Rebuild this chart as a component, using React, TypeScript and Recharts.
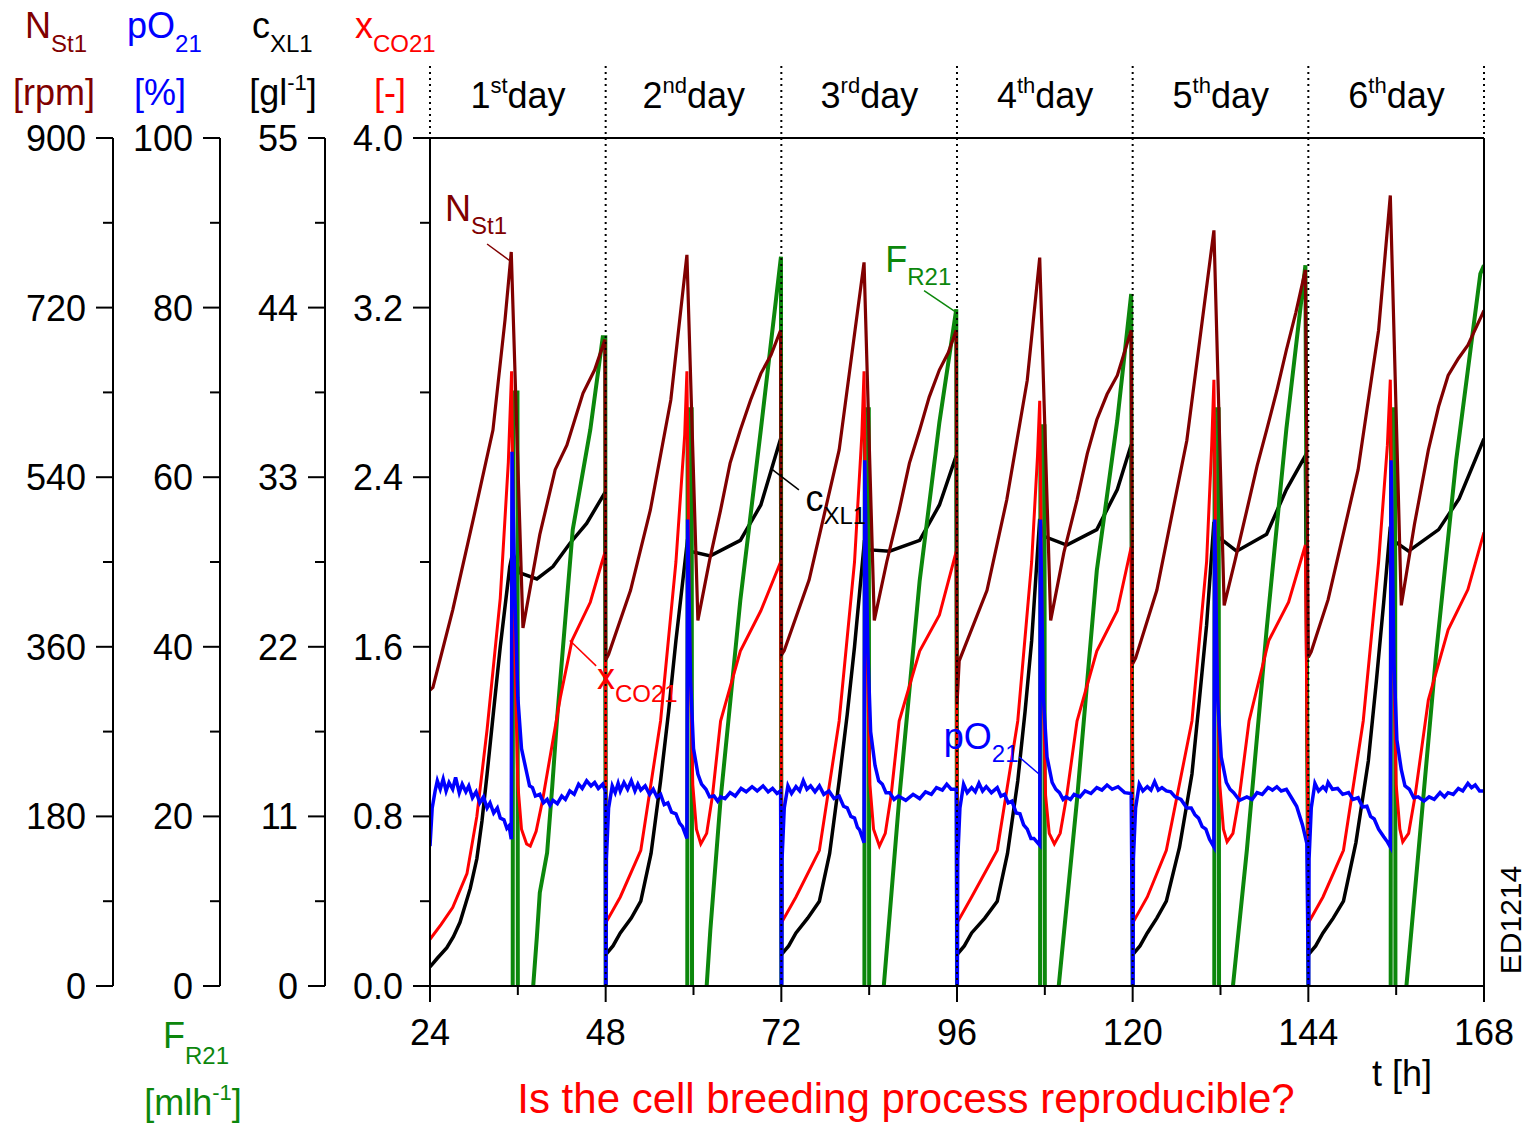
import { ComposedChart, Line, XAxis, YAxis, ReferenceLine, ReferenceDot } from 'recharts';

const FONT = '"Liberation Sans", Arial, Helvetica, sans-serif';
const BROWN = '#800000';
const RED = '#ff0000';
const GREEN = '#0c870c';
const BLUE = '#0000ff';
const BLACK = '#000000';

// y-axis ids; the left axes are stacked outward in id order
const AX_XCO2 = 'a_xco2';
const AX_CXL = 'b_cxl';
const AX_PO2 = 'c_po2';
const AX_N = 'd_n';

type Pt = [number, number | null];

/** stirrer speed N_St1 [rpm] */
const N_ST1: Pt[] = [
  [24, 314], [24.4, 317], [27.1, 399], [29.9, 495], [32.6, 590], [34.25, 707], [35.1, 779], [36.7, 380], [39.0, 479], [41.1, 548], [42.7, 574], [44.9, 629], [46.5, 654], [47.9, 686],
  [48.0, 346], [48.4, 352], [51.4, 420], [54.1, 505], [56.9, 622], [59.1, 776], [60.6, 388], [62.2, 452], [63.7, 505], [65.0, 555], [66.4, 590], [67.8, 622], [69.2, 650], [70.6, 670], [71.9, 696],
  [72.0, 351], [72.4, 356], [75.8, 431], [79.9, 569], [83.3, 768], [84.7, 388], [86.4, 450], [88.1, 505], [89.5, 555], [90.9, 590], [92.2, 625], [93.6, 654], [94.8, 672], [95.9, 696],
  [96.0, 299], [96.3, 345], [100.1, 420], [102.8, 516], [105.6, 643], [107.3, 773], [108.8, 388], [110.6, 460], [112.4, 516], [113.8, 565], [115.1, 601], [116.5, 628], [117.9, 648], [119.8, 696],
  [120.0, 342], [120.4, 348], [123.3, 420], [127.4, 579], [131.1, 802], [132.5, 404], [134.0, 452], [135.6, 505], [137.0, 552], [138.3, 590], [139.7, 632], [141.0, 675], [142.3, 715], [143.6, 760],
  [144.0, 349], [144.4, 355], [146.7, 410], [150.8, 548], [153.6, 696], [155.2, 839], [156.7, 404], [158.5, 490], [160.4, 569], [161.8, 615], [163.1, 648], [164.5, 666], [165.8, 680], [168.0, 717],
];

/** off-gas CO2 fraction x_CO21 [-] */
const X_CO21: Pt[] = [
  [24, 0.22], [25.5, 0.29], [27.1, 0.37], [29.05, 0.53], [30.4, 0.8], [31.8, 1.21], [33.6, 1.83], [34.7, 2.47], [35.15, 2.9], [35.5, 1.7], [36.0, 0.95], [36.5, 0.74], [37.2, 0.67], [37.7, 0.66], [38.5, 0.73], [39.4, 0.88], [41.8, 1.36], [43.4, 1.63], [45.9, 1.81], [47.5, 2.0], [47.95, 2.05],
  [48.05, 0.3], [50.0, 0.42], [52.8, 0.64], [55.5, 1.25], [57.6, 2.0], [58.8, 2.6], [59.1, 2.9], [59.45, 1.7], [59.9, 0.95], [60.4, 0.74], [61.0, 0.67], [61.8, 0.72], [62.6, 0.9], [63.7, 1.25], [66.4, 1.58], [69.2, 1.77], [71.9, 2.0],
  [72.05, 0.3], [74.0, 0.42], [77.2, 0.64], [79.9, 1.25], [82.0, 2.0], [83.0, 2.6], [83.3, 2.9], [83.65, 1.7], [84.1, 0.95], [84.6, 0.74], [85.4, 0.66], [86.2, 0.72], [87.0, 0.9], [88.1, 1.25], [90.9, 1.58], [93.6, 1.75], [95.9, 2.05],
  [96.05, 0.3], [98.0, 0.42], [101.5, 0.64], [104.3, 1.25], [106.2, 2.0], [107.0, 2.5], [107.3, 2.76], [107.65, 1.6], [108.1, 0.9], [108.6, 0.72], [109.3, 0.67], [110.1, 0.72], [111.0, 0.9], [112.4, 1.25], [115.1, 1.58], [117.9, 1.77], [119.8, 2.07],
  [120.05, 0.3], [122.0, 0.42], [124.6, 0.64], [128.1, 1.25], [130.1, 2.0], [130.8, 2.55], [131.1, 2.86], [131.45, 1.7], [131.9, 0.95], [132.4, 0.74], [132.9, 0.68], [133.7, 0.72], [134.6, 0.9], [135.9, 1.25], [138.6, 1.63], [141.3, 1.81], [143.6, 2.08],
  [144.05, 0.3], [146.0, 0.42], [148.8, 0.64], [151.5, 1.25], [153.6, 2.0], [154.8, 2.55], [155.2, 2.86], [155.55, 1.7], [156.0, 0.95], [156.5, 0.74], [156.9, 0.68], [157.7, 0.72], [158.6, 0.9], [160.4, 1.35], [163.1, 1.68], [165.8, 1.87], [168.0, 2.14],
];

/** cell concentration c_XL1 [g/l] */
const C_XL1: Pt[] = [
  [24, 1.24], [25, 1.8], [26.3, 2.48], [27.2, 3.2], [28.1, 4.13], [29.5, 6.33], [30.4, 8.25], [31.1, 10.7], [31.8, 13.75], [32.7, 17.9], [33.6, 22.0], [34.9, 27.2], [35.3, 28.1], [36.3, 26.8], [38.6, 26.4], [40.8, 27.2], [43.1, 28.7], [45.4, 30.0], [47.9, 32.0],
  [48.05, 2.06], [49.0, 2.6], [50.0, 3.44], [51.5, 4.4], [52.8, 5.5], [54.2, 8.6], [55.5, 13.3], [56.6, 17.8], [57.6, 22.4], [59.1, 28.6], [59.5, 28.2], [62.3, 27.9], [66.4, 28.9], [69.2, 31.2], [71.9, 35.5],
  [72.05, 2.06], [73.0, 2.6], [74.0, 3.44], [75.6, 4.4], [77.2, 5.5], [78.6, 8.6], [79.9, 13.3], [81.0, 17.6], [82.0, 22.0], [83.3, 28.6], [83.7, 28.3], [86.8, 28.2], [90.9, 28.9], [93.6, 31.2], [95.9, 34.4],
  [96.05, 2.06], [97.0, 2.6], [98.0, 3.44], [99.8, 4.4], [101.5, 5.5], [102.9, 8.6], [104.3, 13.3], [105.3, 17.8], [106.2, 22.4], [107.3, 30.3], [107.7, 29.2], [111.0, 28.6], [115.1, 29.6], [117.9, 32.2], [119.8, 35.1],
  [120.05, 2.06], [121.0, 2.6], [122.0, 3.44], [123.3, 4.4], [124.6, 5.5], [126.4, 9.0], [128.1, 13.75], [129.1, 18.5], [130.1, 23.4], [131.1, 30.1], [131.5, 29.2], [134.2, 28.2], [138.3, 29.3], [141.0, 32.2], [143.6, 34.4],
  [144.05, 2.06], [145.0, 2.6], [146.0, 3.44], [147.4, 4.4], [148.8, 5.5], [150.5, 9.3], [152.2, 14.6], [153.3, 19.8], [154.3, 24.9], [155.2, 29.8], [155.6, 28.9], [157.7, 28.2], [161.8, 29.6], [164.6, 31.6], [168.0, 35.5],
];

/** dissolved oxygen pO_21 [%] */
const PO_21: Pt[] = [
  [24, 16.5], [24.3, 21], [24.7, 23], [25.0, 24.2], [25.4, 23.2], [25.8, 24.4], [26.2, 23], [26.6, 24], [27.1, 23.2], [27.5, 24.6], [28.0, 22.8], [28.4, 23.8], [28.9, 22.9], [29.3, 23.6], [29.8, 22.2], [30.3, 22.9], [30.8, 21.6], [31.3, 22.3], [31.8, 21], [32.2, 21.6], [32.7, 20.4], [33.2, 21], [33.6, 19.8], [34.1, 19.6], [34.5, 18.6], [34.8, 18.9], [35.1, 17.3],
  [35.2, 63], [35.6, 46], [36.0, 34], [36.5, 28], [37.25, 25], [37.6, 23.6], [38.0, 23.4], [38.4, 22.4], [39.0, 22.6], [39.5, 21.6], [40.0, 22], [40.4, 21.3], [40.8, 21.9], [41.4, 21.5], [42.0, 22.4], [42.5, 22], [43.1, 23], [43.7, 22.6], [44.3, 23.8], [44.8, 23.3], [45.4, 24.2], [46.0, 23.6], [46.5, 24], [47.0, 23.3], [47.6, 23.8], [47.95, 23], [48.0, 0],
  [48.05, 0], [48.1, 15], [48.4, 21], [48.9, 23.6], [49.3, 22.8], [49.7, 23.9], [50.0, 23], [50.5, 24], [51.0, 23.2], [51.5, 24.2], [52.0, 23], [52.4, 23.8], [52.8, 23.1], [53.4, 23.6], [54.0, 22.6], [54.5, 23.2], [55.0, 22.3], [55.5, 22.6], [56.0, 21.4], [56.5, 21.6], [57.0, 20.5], [57.6, 20.3], [58.1, 19.2], [58.5, 18.8], [59.1, 17.4],
  [59.2, 55], [59.6, 36], [60.0, 28], [60.6, 25], [61.1, 23.8], [61.7, 23.2], [62.2, 22.3], [62.8, 22.4], [63.3, 21.8], [63.7, 22.3], [64.3, 22.1], [65.0, 22.8], [65.7, 22.4], [66.5, 23.3], [67.2, 22.9], [68.0, 23.5], [68.7, 23], [69.5, 23.6], [70.2, 22.9], [70.8, 23.3], [71.4, 22.7], [71.9, 23], [72.0, 0],
  [72.05, 0], [72.1, 15], [72.4, 21], [72.9, 23.6], [73.4, 22.7], [74.0, 23.5], [74.5, 23], [75.0, 24.2], [75.5, 23.2], [76.0, 23.6], [76.6, 22.9], [77.2, 23.6], [77.8, 22.6], [78.5, 23], [79.2, 22.1], [79.9, 22.4], [80.5, 21.2], [81.0, 21], [81.5, 20], [82.0, 19.8], [82.4, 18.7], [82.7, 18.4], [83.3, 16.9],
  [83.4, 62], [83.8, 40], [84.2, 30], [84.8, 26], [85.3, 24.2], [85.8, 23.8], [86.3, 22.8], [86.8, 22.8], [87.4, 22], [88.0, 22.4], [89.0, 21.9], [90.0, 22.6], [90.9, 22.1], [91.7, 22.9], [92.5, 22.6], [93.2, 23.4], [94.0, 23.1], [94.6, 23.8], [95.2, 23.2], [95.9, 23.2], [96.0, 0],
  [96.05, 0], [96.1, 15], [96.4, 21], [96.9, 23.8], [97.4, 22.8], [98.0, 23.4], [98.5, 22.9], [99.0, 23.9], [99.5, 23], [100.0, 23.5], [100.7, 22.8], [101.5, 23.4], [102.0, 22.4], [102.5, 22.6], [103.0, 21.6], [103.5, 21.8], [104.1, 20.4], [104.6, 20.3], [105.1, 19], [105.6, 18.5], [106.1, 17.4], [106.5, 17.4], [107.3, 16.6],
  [107.4, 55], [107.8, 34], [108.3, 27], [109.0, 24], [109.5, 23.2], [110.0, 22.8], [110.5, 22], [110.9, 22.3], [111.5, 22], [112.0, 22.6], [112.8, 22.3], [113.5, 23], [114.3, 22.7], [115.1, 23.4], [115.8, 23.1], [116.5, 23.7], [117.2, 23.2], [118.0, 23.5], [118.9, 22.8], [119.8, 22.7], [120.0, 0],
  [120.05, 0], [120.1, 15], [120.4, 21], [120.9, 23.8], [121.4, 23], [122.0, 23.5], [122.5, 23.1], [123.0, 24.1], [123.5, 23.1], [124.0, 23.4], [124.6, 23], [125.2, 22.9], [125.8, 22.3], [126.6, 22], [127.4, 21], [128.0, 21], [128.5, 20.2], [129.0, 19.8], [129.5, 18.8], [130.0, 18.5], [130.5, 17.3], [131.1, 16.4],
  [131.2, 55], [131.6, 34], [132.1, 27], [132.8, 24], [133.3, 23.2], [133.8, 22.8], [134.6, 21.9], [135.6, 22.3], [136.3, 22], [137.0, 22.8], [137.7, 22.6], [138.5, 23.4], [139.1, 23.1], [139.7, 23.5], [140.3, 23], [141.0, 23.2], [141.7, 22.2], [142.4, 21.2], [143.2, 19], [143.8, 16.8], [144.0, 0],
  [144.05, 0], [144.1, 15], [144.4, 21], [144.9, 23.9], [145.4, 23], [146.0, 23.5], [146.4, 23.1], [146.7, 24], [147.3, 23.2], [148.0, 23.3], [148.7, 22.6], [149.5, 22.8], [150.1, 22], [150.8, 22.2], [151.4, 21.1], [152.0, 21.2], [152.5, 20], [153.0, 19.7], [153.6, 18.5], [154.3, 17.6], [154.8, 17], [155.2, 16.4],
  [155.3, 62], [155.7, 38], [156.1, 29], [156.7, 25.5], [157.2, 23.6], [157.8, 23.2], [158.4, 22.2], [159.0, 22.3], [159.8, 21.8], [160.5, 22.3], [161.2, 22], [162.0, 22.8], [162.6, 22.3], [163.1, 22.8], [163.8, 22.6], [164.5, 23.3], [165.1, 23], [165.8, 23.9], [166.3, 23.4], [166.8, 23.7], [167.4, 23], [168.0, 23],
];

/** feed rate F_R21 [ml/h], null = pump off */
const F_R21: Pt[] = [
  [35.3, 0], [35.35, 70], [35.95, 70], [36.0, 0], [37, null], [38.1, 0], [38.6, 5.8], [39.0, 11], [40.0, 15.7], [40.7, 23.5], [41.35, 31.4], [43.5, 53.8], [45.9, 65.6], [47.6, 76.5], [47.95, 76.5], [48.0, 0], [50, null],
  [59.15, 0], [59.2, 68], [59.75, 68], [59.8, 0], [61, null], [61.8, 0], [62.3, 6.6], [63.7, 22], [66.4, 45.5], [69.2, 65.6], [71.95, 86], [72.0, 0], [74, null],
  [83.35, 0], [83.4, 68], [83.95, 68], [84.0, 0], [85, null], [86.0, 0], [88.1, 22], [90.9, 47.8], [93.6, 66.5], [95.9, 79.8], [96.0, 0], [98, null],
  [107.35, 0], [107.4, 66], [107.95, 66], [108.0, 0], [109, null], [109.9, 0], [112.4, 22], [115.1, 49], [117.9, 66.7], [119.8, 81.6], [120.0, 0], [122, null],
  [131.15, 0], [131.2, 68], [131.75, 68], [131.8, 0], [133, null], [133.7, 0], [135.6, 16], [138.3, 42], [141.0, 65.7], [143.6, 85], [144.0, 0], [146, null],
  [155.25, 0], [155.3, 68], [155.85, 68], [155.9, 0], [156.5, null], [157.4, 0], [158.7, 12.5], [161.5, 39.5], [164.2, 62], [167.5, 84], [168, 85],
];

const T_TICKS = [24, 36, 48, 60, 72, 84, 96, 108, 120, 132, 144, 156, 168];
const DAY_BOUNDS = [24, 48, 72, 96, 120, 144, 168];
const DAY_LABELS = [['1', 'st'], ['2', 'nd'], ['3', 'rd'], ['4', 'th'], ['5', 'th'], ['6', 'th']];
const N_TICKS = [0, 90, 180, 270, 360, 450, 540, 630, 720, 810, 900];
const PO2_TICKS = [0, 10, 20, 30, 40, 50, 60, 70, 80, 90, 100];
const CX_TICKS = [0, 5.5, 11, 16.5, 22, 27.5, 33, 38.5, 44, 49.5, 55];
const XCO2_TICKS = [0, 0.4, 0.8, 1.2, 1.6, 2.0, 2.4, 2.8, 3.2, 3.6, 4.0];

const toPts = (a: Pt[]) => a.map(([t, y]) => ({ t, y }));

const isMajor = (v: number, step: number) => Math.abs(v / step - Math.round(v / step)) < 1e-6;

function makeYTick(step: number, digits: number) {
  return (props: any) => {
    const { x, y, payload } = props;
    const v = payload.value as number;
    const major = isMajor(v, step);
    const len = major ? 17 : 10;
    return (
      <g>
        <line x1={x - len} y1={y} x2={x} y2={y} stroke={BLACK} strokeWidth={2} />
        {major && (
          <text x={x - len - 10} y={y + 13} textAnchor="end" fontSize={36} fontFamily={FONT} fill={BLACK}>
            {v.toFixed(digits)}
          </text>
        )}
      </g>
    );
  };
}

const XTick = (props: any) => {
  const { x, y, payload } = props;
  const v = payload.value as number;
  const major = isMajor(v, 24);
  return (
    <g>
      <line x1={x} y1={y} x2={x} y2={y + (major ? 16 : 9)} stroke={BLACK} strokeWidth={2} />
      {major && (
        <text x={x} y={y + 59} textAnchor="middle" fontSize={36} fontFamily={FONT} fill={BLACK}>
          {v}
        </text>
      )}
    </g>
  );
};

// symbol with subscript, used for curve annotations
const SubLabel = ({ cx, cy, main, sub, color }: any) => (
  <text x={cx} y={cy} fill={color} fontSize={36} fontFamily={FONT}>
    {main}
    <tspan dy={13} fontSize={24}>{sub}</tspan>
  </text>
);

const ANNOTATIONS = [
  { t: 26.05, v: 3.61, main: 'N', sub: 'St1', color: BROWN, lead: [[31.8, 3.5], [34.95, 3.42]] },
  { t: 86.2, v: 3.37, main: 'F', sub: 'R21', color: GREEN, lead: [[91.5, 3.28], [95.8, 3.18]] },
  { t: 75.3, v: 2.24, main: 'c', sub: 'XL1', color: BLACK, lead: [[74.4, 2.34], [70.6, 2.44]] },
  { t: 46.8, v: 1.4, main: 'x', sub: 'CO21', color: RED, lead: [[46.7, 1.51], [43.1, 1.63]] },
  { t: 94.2, v: 1.12, main: 'pO', sub: '21', color: BLUE, lead: [[104.5, 1.08], [107.2, 1.0]] },
];

const Sup = ({ children }: any) => <tspan dy={-15} fontSize={22}>{children}</tspan>;

export default function App() {
  const axisLine = { stroke: BLACK, strokeWidth: 2 };
  return (
    <div style={{ position: 'absolute', left: 0, top: 0, width: 1528, height: 1126, background: '#fff' }}>
      <ComposedChart width={1528} height={1126} margin={{ top: 138, right: 44, bottom: 80, left: 0 }}>
        <XAxis dataKey="t" type="number" domain={[24, 168]} ticks={T_TICKS} interval={0} tick={XTick}
          tickLine={false} tickSize={0} tickMargin={0} axisLine={axisLine} height={60} allowDataOverflow />
        <YAxis yAxisId={AX_XCO2} type="number" domain={[0, 4]} ticks={XCO2_TICKS} interval={0} tick={makeYTick(0.8, 1)}
          tickLine={false} tickSize={0} tickMargin={0} axisLine={axisLine} width={105} allowDataOverflow />
        <YAxis yAxisId={AX_CXL} type="number" domain={[0, 55]} ticks={CX_TICKS} interval={0} tick={makeYTick(11, 0)}
          tickLine={false} tickSize={0} tickMargin={0} axisLine={axisLine} width={105} allowDataOverflow />
        <YAxis yAxisId={AX_PO2} type="number" domain={[0, 100]} ticks={PO2_TICKS} interval={0} tick={makeYTick(20, 0)}
          tickLine={false} tickSize={0} tickMargin={0} axisLine={axisLine} width={107} allowDataOverflow />
        <YAxis yAxisId={AX_N} type="number" domain={[0, 900]} ticks={N_TICKS} interval={0} tick={makeYTick(180, 0)}
          tickLine={false} tickSize={0} tickMargin={0} axisLine={axisLine} width={113} allowDataOverflow />

        <Line yAxisId={AX_CXL} data={toPts(C_XL1)} dataKey="y" type="linear" stroke={BLACK} strokeWidth={3.5} dot={false} isAnimationActive={false} />
        <Line yAxisId={AX_PO2} data={toPts(F_R21)} dataKey="y" type="linear" stroke={GREEN} strokeWidth={4} dot={false} isAnimationActive={false} />
        <Line yAxisId={AX_XCO2} data={toPts(X_CO21)} dataKey="y" type="linear" stroke={RED} strokeWidth={3} dot={false} isAnimationActive={false} />
        <Line yAxisId={AX_N} data={toPts(N_ST1)} dataKey="y" type="linear" stroke={BROWN} strokeWidth={3.2} dot={false} isAnimationActive={false} />
        <Line yAxisId={AX_PO2} data={toPts(PO_21)} dataKey="y" type="linear" stroke={BLUE} strokeWidth={3.5} dot={false} isAnimationActive={false} />

        {/* frame */}
        <ReferenceLine yAxisId={AX_XCO2} y={4} stroke={BLACK} strokeWidth={2} />
        <ReferenceLine yAxisId={AX_XCO2} x={168} stroke={BLACK} strokeWidth={2} />

        {/* day separators, running up into the header */}
        {DAY_BOUNDS.map((d) => (
          <ReferenceLine key={d} yAxisId={AX_XCO2} ifOverflow="visible" stroke={BLACK} strokeWidth={2} strokeDasharray="2 4"
            segment={[{ x: d, y: 0 }, { x: d, y: 4.345 }]} />
        ))}

        {ANNOTATIONS.map((a) => (
          <ReferenceLine key={a.main + 'l'} yAxisId={AX_XCO2} ifOverflow="visible" stroke={a.color} strokeWidth={1.5}
            segment={[{ x: a.lead[0][0], y: a.lead[0][1] }, { x: a.lead[1][0], y: a.lead[1][1] }]} />
        ))}
        {ANNOTATIONS.map((a) => (
          <ReferenceDot key={a.main} yAxisId={AX_XCO2} x={a.t} y={a.v} r={0} ifOverflow="visible"
            shape={(p: any) => <SubLabel cx={p.cx} cy={p.cy} main={a.main} sub={a.sub} color={a.color} />} />
        ))}
      </ComposedChart>

      <svg width={1528} height={1126} style={{ position: 'absolute', left: 0, top: 0, pointerEvents: 'none' }}
        fontFamily={FONT} fontSize={36}>
        {/* axis titles */}
        <text x={25} y={38} fill={BROWN}>N<tspan dy={14} fontSize={24}>St1</tspan></text>
        <text x={127} y={38} fill={BLUE}>pO<tspan dy={14} fontSize={24}>21</tspan></text>
        <text x={252} y={38} fill={BLACK}>c<tspan dy={14} fontSize={24}>XL1</tspan></text>
        <text x={355} y={38} fill={RED}>x<tspan dy={14} fontSize={24}>CO21</tspan></text>
        <text x={54} y={105} fill={BROWN} textAnchor="middle">[rpm]</text>
        <text x={160} y={105} fill={BLUE} textAnchor="middle">[%]</text>
        <text x={283} y={105} fill={BLACK} textAnchor="middle">[gl<Sup>-1</Sup><tspan dy={15}>]</tspan></text>
        <text x={390} y={105} fill={RED} textAnchor="middle">[-]</text>

        {/* day headers */}
        {DAY_LABELS.map(([n, s], i) => (
          <text key={i} x={518 + i * 175.7} y={108} textAnchor="middle" fill={BLACK}>
            {n}<Sup>{s}</Sup><tspan dy={15}>day</tspan>
          </text>
        ))}

        {/* feed rate shares the pO2 scale */}
        <text x={163} y={1048} fill={GREEN}>F<tspan dy={16} fontSize={24}>R21</tspan></text>
        <text x={193} y={1115} fill={GREEN} textAnchor="middle">[mlh<Sup>-1</Sup><tspan dy={15}>]</tspan></text>

        <text x={1372} y={1086} fill={BLACK}>t [h]</text>
        <text x={906} y={1113} fill={RED} fontSize={42} textAnchor="middle">Is the cell breeding process reproducible?</text>
        <text x={1510} y={920} fontSize={30} fill={BLACK} textAnchor="middle" dominantBaseline="central"
          transform="rotate(-90 1510 920)">ED1214</text>
      </svg>
    </div>
  );
}
